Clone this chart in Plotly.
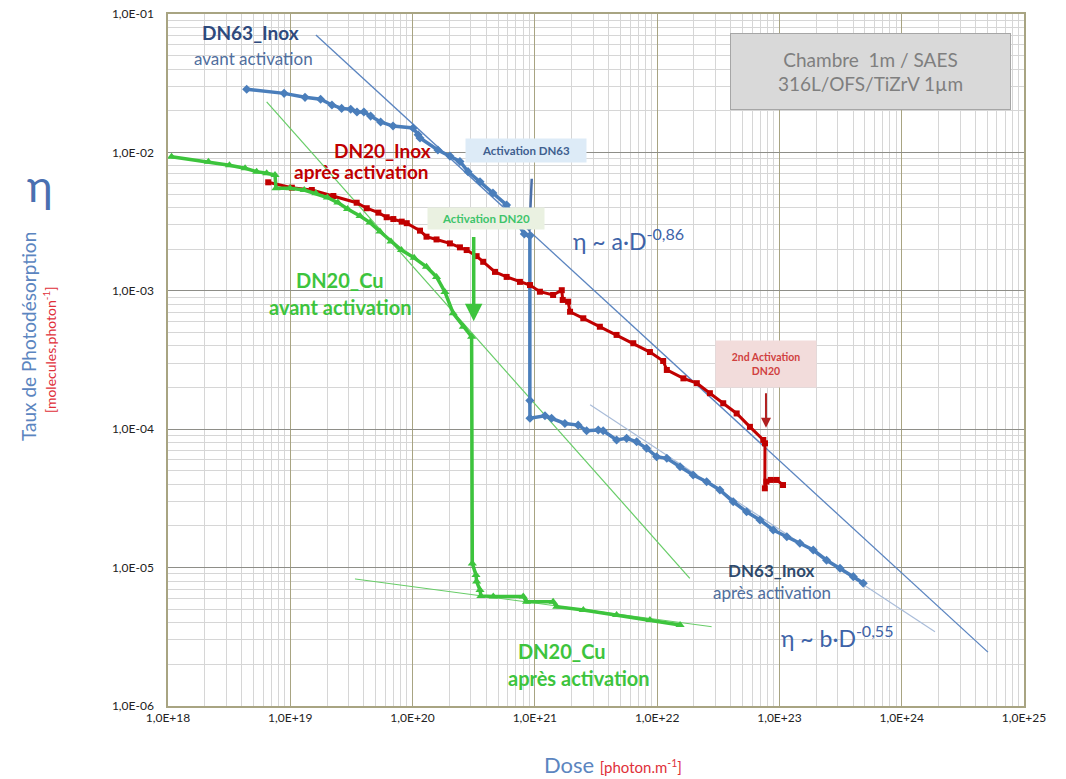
import plotly.graph_objects as go

# ---- Measured photodesorption yields ----
# DN63 stainless steel: before activation, then after activation (drop at ~9e20)
dn63_dose = [4.4e18, 8.9e18, 1.32e19, 1.77e19, 2.19e19, 2.63e19, 3.12e19, 3.51e19, 4.0e19,
             4.54e19, 5.48e19, 6.92e19, 1.01e20, 1.11e20, 1.15e20, 1.61e20, 2.02e20, 2.44e20,
             2.84e20, 3.56e20, 4.54e20, 5.87e20, 8.2e20, 9.1e20,
             9.1e20, 9.12e20, 1.21e21, 1.37e21, 1.76e21, 2.26e21, 2.65e21, 3.30e21, 3.62e21,
             4.66e21, 5.63e21, 6.80e21, 8.20e21, 9.9e21, 1.20e22, 1.54e22, 1.97e22, 2.54e22,
             3.26e22, 4.19e22, 5.39e22, 6.93e22, 8.9e22, 1.15e23, 1.47e23, 1.89e23, 2.43e23,
             3.13e23, 4.02e23, 4.85e23]
dn63_eta = [2.86e-2, 2.67e-2, 2.50e-2, 2.42e-2, 2.20e-2, 2.08e-2, 2.05e-2, 1.96e-2, 1.96e-2,
            1.83e-2, 1.66e-2, 1.55e-2, 1.50e-2, 1.34e-2, 1.27e-2, 1.04e-2, 9.4e-3, 8.6e-3,
            7.26e-3, 6.14e-3, 5.09e-3, 4.17e-3, 2.57e-3, 2.5e-3,
            1.61e-4, 1.20e-4, 1.25e-4, 1.20e-4, 1.10e-4, 1.07e-4, 9.75e-5, 9.87e-5, 9.75e-5,
            8.36e-5, 8.59e-5, 8.12e-5, 7.28e-5, 6.33e-5, 6.16e-5, 5.36e-5, 4.67e-5, 4.17e-5,
            3.64e-5, 2.99e-5, 2.53e-5, 2.21e-5, 1.87e-5, 1.67e-5, 1.50e-5, 1.34e-5, 1.13e-5,
            9.9e-6, 8.6e-6, 7.7e-6]

# DN20 stainless steel after activation, with second activation at ~7.6e22
dn20i_dose = [6.6e18, 1.03e19, 1.50e19, 2.25e19, 3.49e19, 4.22e19, 5.25e19, 6.14e19, 6.96e19,
              8.15e19, 8.96e19, 1.15e20, 1.30e20, 1.57e20, 2.02e20, 2.44e20, 2.77e20, 3.34e20,
              3.78e20, 4.72e20, 5.88e20, 7.55e20, 9.12e20, 1.10e21, 1.41e21, 1.66e21, 1.69e21,
              1.87e21, 1.94e21, 2.49e21, 3.40e21, 4.66e21, 6.38e21, 8.73e21, 1.12e22, 1.20e22,
              1.64e22, 2.11e22, 2.70e22, 3.47e22, 4.47e22, 5.74e22, 7.38e22, 7.62e22,
              7.6e22, 7.83e22, 8.5e22, 9.5e22, 1.07e23]
dn20i_eta = [6.08e-3, 5.56e-3, 5.35e-3, 4.84e-3, 4.33e-3, 3.95e-3, 3.67e-3, 3.40e-3, 3.30e-3,
             3.16e-3, 3.08e-3, 2.72e-3, 2.46e-3, 2.35e-3, 2.20e-3, 2.06e-3, 1.97e-3, 1.78e-3,
             1.62e-3, 1.37e-3, 1.26e-3, 1.16e-3, 1.10e-3, 9.85e-4, 9.33e-4, 1.01e-3, 8.59e-4,
             8.34e-4, 7.06e-4, 6.33e-4, 5.50e-4, 4.80e-4, 4.18e-4, 3.61e-4, 3.11e-4, 2.68e-4,
             2.33e-4, 2.15e-4, 1.82e-4, 1.54e-4, 1.30e-4, 1.04e-4, 8.36e-5, 7.91e-5,
             3.74e-5, 4.18e-5, 4.30e-5, 4.30e-5, 3.95e-5]

# DN20 copper: before activation, then after activation (drop at ~3e20)
dn20c_dose = [1.07e18, 2.14e18, 3.18e18, 4.27e18, 5.31e18, 6.41e18, 7.5e18, 7.64e18, 9.95e18,
              1.30e19, 1.62e19, 2.01e19, 2.45e19, 2.94e19, 3.72e19, 4.49e19, 5.41e19, 6.66e19,
              8.11e19, 1.03e20, 1.30e20, 1.57e20, 1.84e20, 2.15e20, 2.60e20, 3.04e20,
              3.08e20, 3.30e20, 3.34e20, 3.56e20, 3.62e20, 4.57e20, 8.04e20, 8.55e20, 1.41e21,
              1.51e21, 2.49e21, 4.66e21, 8.73e21, 1.54e22]
dn20c_eta = [9.31e-3, 8.57e-3, 8.07e-3, 7.68e-3, 7.26e-3, 7.07e-3, 6.87e-3, 5.51e-3, 5.51e-3,
             5.35e-3, 5.06e-3, 4.72e-3, 4.34e-3, 3.90e-3, 3.47e-3, 3.11e-3, 2.68e-3, 2.27e-3,
             1.97e-3, 1.73e-3, 1.49e-3, 1.26e-3, 9.8e-4, 6.87e-4, 5.50e-4, 4.66e-4,
             1.07e-5, 8.85e-6, 7.92e-6, 6.89e-6, 6.24e-6, 6.17e-6, 6.17e-6, 5.67e-6, 5.67e-6,
             5.22e-6, 4.94e-6, 4.55e-6, 4.18e-6, 3.85e-6]

# Power-law trend lines (end points)
fit_a_dose, fit_a_eta = [1.62e19, 5.07e24], [7.05e-2, 2.45e-6]        # eta ~ a.D^-0.86
fit_b_dose, fit_b_eta = [2.83e21, 1.87e24], [1.50e-4, 3.44e-6]        # eta ~ b.D^-0.55
fit_cu1_dose, fit_cu1_eta = [6.41e18, 1.85e22], [2.32e-2, 8.37e-6]    # Cu before activation
fit_cu2_dose, fit_cu2_eta = [3.38e19, 2.79e22], [8.28e-6, 3.74e-6]    # Cu after activation

# Axis ticks
x_tickvals = [1e18, 1e19, 1e20, 1e21, 1e22, 1e23, 1e24, 1e25]
x_ticktext = ["1,0E+18", "1,0E+19", "1,0E+20", "1,0E+21", "1,0E+22", "1,0E+23", "1,0E+24", "1,0E+25"]
y_tickvals = [1e-6, 1e-5, 1e-4, 1e-3, 1e-2, 1e-1]
y_ticktext = ["1,0E-06", "1,0E-05", "1,0E-04", "1,0E-03", "1,0E-02", "1,0E-01"]

BLUE = "#4A7EBB"
DARKBLUE = "#2E4A7D"
RED = "#C00000"
GREEN = "#3DC43D"
FONT = "Lato"

W, H = 1066, 779
L, R, T, B = 168, 42, 14, 73


def px(x):
    return (x - L) / (W - L - R)


def py(y):
    return (H - B - y) / (H - T - B)


fig = go.Figure()

# trend lines
fig.add_trace(go.Scatter(x=fit_a_dose, y=fit_a_eta, mode="lines",
                         line=dict(color="#5B85C0", width=1.3), hoverinfo="skip"))
fig.add_trace(go.Scatter(x=fit_b_dose, y=fit_b_eta, mode="lines",
                         line=dict(color="#A9BCD9", width=1.2), hoverinfo="skip"))
fig.add_trace(go.Scatter(x=fit_cu1_dose, y=fit_cu1_eta, mode="lines",
                         line=dict(color="#66CC66", width=1.2), hoverinfo="skip"))
fig.add_trace(go.Scatter(x=fit_cu2_dose, y=fit_cu2_eta, mode="lines",
                         line=dict(color="#66CC66", width=1.0), hoverinfo="skip"))

# measurements
fig.add_trace(go.Scatter(x=dn63_dose, y=dn63_eta, mode="lines+markers", name="DN63_Inox",
                         line=dict(color=BLUE, width=3.5),
                         marker=dict(symbol="diamond", size=7, color=BLUE)))
fig.add_trace(go.Scatter(x=dn20i_dose, y=dn20i_eta, mode="lines+markers", name="DN20_Inox",
                         line=dict(color=RED, width=3),
                         marker=dict(symbol="square", size=6, color=RED)))
fig.add_trace(go.Scatter(x=dn20c_dose, y=dn20c_eta, mode="lines+markers", name="DN20_Cu",
                         line=dict(color=GREEN, width=3.5),
                         marker=dict(symbol="triangle-up", size=8, color=GREEN)))

ann = []

# activation arrows (in log10 data units); drawn first so the label boxes sit on top
ann.append(dict(x=20.955, y=-2.58, ax=20.975, ay=-2.18, xref="x", yref="y", axref="x", ayref="y",
                showarrow=True, arrowhead=2, arrowsize=1, arrowwidth=2.5, arrowcolor="#4A6FA8",
                text=""))
ann.append(dict(x=20.50, y=-3.22, ax=20.50, ay=-2.60, xref="x", yref="y", axref="x", ayref="y",
                showarrow=True, arrowhead=2, arrowsize=1, arrowwidth=3.5, arrowcolor="#3DC43D",
                text=""))
ann.append(dict(x=22.89, y=-3.99, ax=22.89, ay=-3.73, xref="x", yref="y", axref="x", ayref="y",
                showarrow=True, arrowhead=2, arrowsize=1, arrowwidth=2, arrowcolor="#B02020",
                text=""))


def text(x, y, s, size, color, bold=False, xanchor="center", **kw):
    if bold:
        s = "<b>" + s + "</b>"
    ann.append(dict(x=px(x), y=py(y), xref="paper", yref="paper", text=s, showarrow=False,
                    xanchor=xanchor, yanchor="middle",
                    font=dict(family=FONT, size=size, color=color), **kw))


# series labels
text(250, 33, "DN63_Inox", 19, DARKBLUE, bold=True)
text(253, 58, "avant activation", 17, "#4F6E9E")
text(382, 150, "DN20_Inox", 19, RED, bold=True)
text(361, 172, "après activation", 19, RED, bold=True)
text(340, 280, "DN20_Cu", 20, GREEN, bold=True)
text(340, 307, "avant activation", 20, GREEN, bold=True)
text(562, 651, "DN20_Cu", 20, GREEN, bold=True)
text(579, 678, "après activation", 20, GREEN, bold=True)
text(771, 570, "DN63_Inox", 17, "#2E4A6D", bold=True)
text(772, 592, "après activation", 17, "#4F6E9E")

# power-law labels
text(571, 240, "η ~ a·D<sup>-0,86</sup>", 23, "#3D63A8", xanchor="left")
text(779, 636, "η ~ b·D<sup>-0,55</sup>", 23, "#3D63A8", xanchor="left")

# activation boxes
text(526, 150, "<b>Activation DN63</b>", 11.5, "#3F5F8F",
     bgcolor="#DDEBF7", borderpad=5, width=110)
text(486, 218, "<b>Activation DN20</b>", 11.5, "#3DC46A",
     bgcolor="#EAF1E1", borderpad=4, width=108)
text(766, 364, "<b>2nd Activation<br>DN20</b>", 10.5, "#D04040",
     bgcolor="#F2DCDB", borderpad=10, width=80)

# info box
text(870, 71, "Chambre  1m / SAES<br>316L/OFS/TiZrV 1µm", 19, "#7F7F7F",
     bgcolor="#D9D9D9", bordercolor="#A6A6A6", borderwidth=1, width=277, height=73)

# axis titles
text(40, 185, "η", 44, "#4A6FB0")
text(28, 337, "Taux de Photodésorption", 19, "#5B85C0", textangle=-90)
text(49, 350, "[molecules.photon<sup>-1</sup>]", 14, "#E0303A", textangle=-90)
text(613, 764, "Dose <span style='font-size:15px;color:#E0303A'>[photon.m<sup>-1</sup>]</span>",
     22, "#5B85C0")

fig.update_layout(
    width=W, height=H,
    margin=dict(l=L, r=R, t=T, b=B),
    paper_bgcolor="white", plot_bgcolor="white",
    showlegend=False,
    annotations=ann,
    font=dict(family=FONT, size=12, color="#222222"),
)

fig.update_xaxes(type="log", range=[18, 25], tickvals=x_tickvals, ticktext=x_ticktext,
                 showgrid=True, gridcolor="#A8A482", gridwidth=1.3,
                 minor=dict(showgrid=True, gridcolor="#D6D6D6", gridwidth=1, dtick="D1"),
                 showline=True, linecolor="#A8A482", linewidth=1.5, mirror=True, automargin=False,
                 ticks="", tickfont=dict(family=FONT, size=12, color="#222222"), zeroline=False)
fig.update_yaxes(type="log", range=[-6, -1], tickvals=y_tickvals, ticktext=y_ticktext,
                 showgrid=True, gridcolor="#8E8E88", gridwidth=1.3,
                 minor=dict(showgrid=True, gridcolor="#D6D6D6", gridwidth=1, dtick="D1"),
                 showline=True, linecolor="#A8A482", linewidth=1.5, mirror=True, automargin=False,
                 ticks="", ticklabelstandoff=10,
                 tickfont=dict(family=FONT, size=12, color="#222222"), zeroline=False)

fig.write_html("out.html")
